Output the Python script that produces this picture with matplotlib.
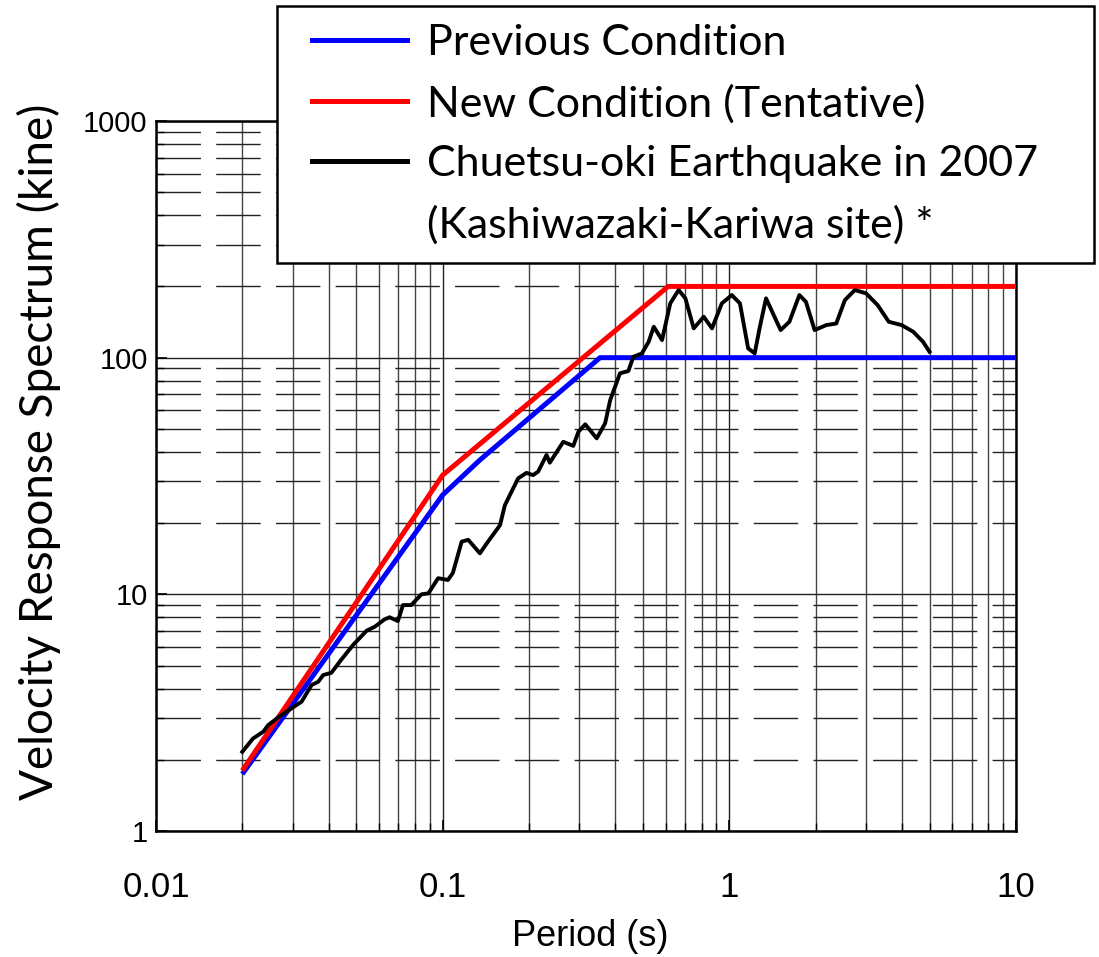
import matplotlib
matplotlib.use("Agg")
import matplotlib.pyplot as plt
from matplotlib.lines import Line2D
from matplotlib.legend_handler import HandlerLine2D
from matplotlib.ticker import LogLocator, NullFormatter

# Previous design condition (blue)
period_prev = [0.02, 0.1, 0.135, 0.354, 10]
vel_prev = [1.74, 26.3, 37.0, 100, 100]

# New condition, tentative (red)
period_new = [0.02, 0.1, 0.612, 10]
vel_new = [1.80, 31.9, 200, 200]

# Chuetsu-oki 2007 observed spectrum (black)
period_obs = [0.020, 0.0218, 0.0237, 0.0246, 0.0271, 0.0305, 0.0322, 0.0349,
              0.0368, 0.0383, 0.0409, 0.0442, 0.0487, 0.0543, 0.0580, 0.0627,
              0.0653, 0.0698, 0.0727, 0.0777, 0.0843, 0.0892, 0.0964, 0.1043,
              0.1085, 0.1165, 0.1228, 0.1349, 0.1424, 0.1585, 0.1648, 0.1833,
              0.196, 0.2067, 0.2153, 0.2303, 0.2364, 0.2635, 0.2856, 0.2975,
              0.3143, 0.3446, 0.3687, 0.3841, 0.4155, 0.4443, 0.4627, 0.4954,
              0.523, 0.545, 0.5824, 0.6222, 0.6654, 0.7026, 0.7513, 0.814,
              0.870, 0.9416, 1.0197, 1.089, 1.163, 1.226, 1.278, 1.343,
              1.455, 1.51, 1.62, 1.755, 1.85, 1.984, 2.18, 2.36,
              2.53, 2.74, 3.0, 3.29, 3.6, 3.99, 4.38, 4.74, 4.99]
vel_obs = [2.16, 2.46, 2.63, 2.80, 3.06, 3.37, 3.52, 4.14,
           4.27, 4.56, 4.66, 5.28, 6.11, 7.02, 7.30, 7.84,
           8.00, 7.71, 9.01, 9.01, 10.0, 10.1, 11.7, 11.5,
           12.3, 16.7, 17.0, 14.9, 16.4, 19.6, 23.8, 30.9,
           32.6, 31.9, 33.0, 38.8, 36.0, 44.1, 42.4, 48.6,
           52.3, 45.6, 52.8, 66.2, 85.9, 87.8, 100.9, 104.2,
           116.7, 135.1, 118.7, 169.6, 193.1, 178.1, 133.0, 148.9,
           133.0, 169.6, 183.9, 169.6, 109.5, 104.3, 135.0, 178.1,
           144.1, 130.8, 141.8, 183.9, 172.2, 130.8, 137.3, 139.4,
           175.1, 193.1, 186.9, 166.8, 141.8, 137.3, 128.7, 116.7, 106.0]

x_ticks = [0.01, 0.1, 1, 10]
x_labels = ["0.01", "0.1", "1", "10"]
y_ticks = [1, 10, 100, 1000]
y_labels = ["1", "10", "100", "1000"]

legend_labels = ["Previous Condition", "New Condition (Tentative)",
                 "Chuetsu-oki Earthquake in 2007", "(Kashiwazaki-Kariwa site) *"]

fig = plt.figure(figsize=(10.99, 9.57), dpi=100)
ax = fig.add_axes([156 / 1099, 1 - 831 / 957, 860 / 1099, 710 / 957])

ax.plot(period_prev, vel_prev, color="#0000ff", lw=3.6, solid_capstyle="butt", zorder=3)
ax.plot(period_new, vel_new, color="#ff0000", lw=3.6, solid_capstyle="butt", zorder=3)
ax.plot(period_obs, vel_obs, color="black", lw=2.8, zorder=4)

ax.set_xscale("log")
ax.set_yscale("log")
ax.set_xlim(0.01, 10)
ax.set_ylim(1, 1000)

ax.xaxis.set_minor_locator(LogLocator(base=10, subs=range(2, 10)))
ax.yaxis.set_minor_locator(LogLocator(base=10, subs=range(2, 10)))
ax.xaxis.set_minor_formatter(NullFormatter())
ax.yaxis.set_minor_formatter(NullFormatter())
ax.set_xticks(x_ticks, x_labels, fontfamily="Liberation Sans", fontsize=25)
ax.set_yticks(y_ticks, y_labels, fontfamily="Liberation Sans", fontsize=21)

ax.grid(which="major", color="#222222", lw=1.0)
ax.grid(which="minor", axis="x", color="#444444", lw=1.0)
ax.grid(which="minor", axis="y", color="#222222", lw=1.0, linestyle=(0, (32, 11)))
ax.set_axisbelow(True)

ax.tick_params(which="both", direction="in", top=False, right=False)
ax.tick_params(which="major", length=8, width=1.2)
ax.tick_params(which="minor", length=6, width=1.0)
ax.tick_params(axis="x", pad=29)
ax.tick_params(axis="y", pad=6)
for s in ax.spines.values():
    s.set_linewidth(1.8)

ax.set_xlabel("Period (s)", fontfamily="Liberation Sans", fontsize=26)
ax.xaxis.set_label_coords(0.505, -0.124)
ax.set_ylabel("Velocity Response Spectrum (kine)", fontfamily="Lato", fontsize=33)
ax.yaxis.set_label_coords(-0.111, 0.534)

handles = [Line2D([], [], color="#0000ff", lw=3.6),
           Line2D([], [], color="#ff0000", lw=3.6),
           Line2D([], [], color="black", lw=3.6),
           Line2D([], [], color="none", lw=0)]
leg = fig.legend(handles, legend_labels, loc="upper left",
                 bbox_to_anchor=(277 / 1099, 1 - 6 / 957, 817 / 1099, 0), mode="expand",
                 borderaxespad=0,
                 prop={"family": "Lato", "size": 31}, frameon=True, fancybox=False,
                 edgecolor="black", framealpha=1, borderpad=0.42, labelspacing=0.51,
                 handlelength=2.6, handletextpad=0.47,
                 handler_map={Line2D: HandlerLine2D(xpad=0.4)})
leg.get_frame().set_linewidth(1.8)

fig.savefig("out.png", dpi=100)
